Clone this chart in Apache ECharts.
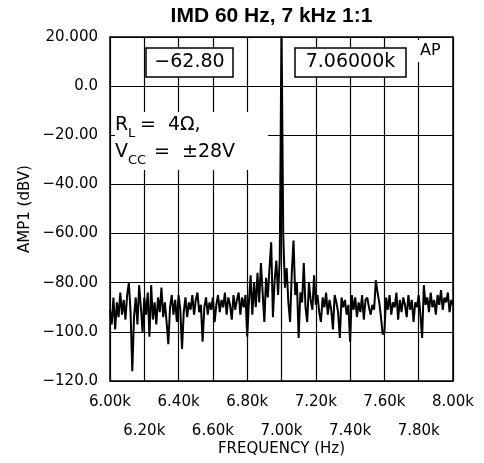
<!DOCTYPE html>
<html>
<head>
<meta charset="utf-8">
<script src="https://cdn.jsdelivr.net/npm/echarts@6/dist/echarts.min.js"></script>
<style>
  html, body { margin: 0; padding: 0; background: #fff; }
  #chart { width: 484px; height: 463px; }
</style>
</head>
<body>
<div id="chart"></div>
<script>
// spectrum, one point every 10 Hz from 6.00k to 8.00k
const freqStart = 6000
const freqStep = 10
const ampValues = [
  -91, -97, -86, -99, -88, -94, -84, -93, -87, -95,
  -85, -80, -92, -116, -94, -86, -97, -81, -90, -100,
  -86, -93, -84, -102, -81, -95, -88, -97, -86, -92,
  -82, -94, -88, -96, -105, -90, -85, -93, -87, -96,
  -85, -91, -107, -92, -86, -94, -88, -91, -85, -93,
  -87, -84, -92, -89, -104, -90, -86, -93, -88, -91,
  -86, -96, -89, -85, -92, -87, -90, -84, -93, -86,
  -89, -95, -85, -91, -87, -84, -93, -86, -90, -85,
  -102, -88, -77, -93, -80, -90, -76, -88, -72, -84,
  -96, -78, -86, -74, -63.5, -94, -79, -71, -85, -70,
  25, -60, -82, -74, -88, -96, -76, -62.8, -85, -80,
  -102.5, -84, -88, -72, -90, -96, -80, -87, -91, -77,
  -89, -85, -92, -96, -86, -90, -84, -93, -87, -91,
  -99, -85, -88, -92, -102.5, -86, -90, -87, -93, -89,
  -104, -85, -91, -86, -94, -88, -92, -85, -95, -87,
  -86, -90, -93, -89, -91, -79, -84, -88, -94, -101,
  -100, -86, -91, -85, -93, -88, -90, -84, -95, -87,
  -92, -86, -89, -94, -85, -91, -87, -96, -88, -90,
  -85, -93, -102.5, -81, -89, -86, -92, -84, -90, -87,
  -93, -85, -89, -83, -91, -86, -88, -84, -92, -87,
  -89
]
const xTickLabels = ['6.00k', '6.20k', '6.40k', '6.60k', '6.80k', '7.00k', '7.20k', '7.40k', '7.60k', '7.80k', '8.00k']
const yTickLabels = ['\u2212120.0', '\u2212100.0', '\u221280.00', '\u221260.00', '\u221240.00', '\u221220.00', '0.0', '20.000']

const points = ampValues.map((v, i) => [freqStart + i * freqStep, v])

const font = 'DejaVu Sans'
const myChart = echarts.init(document.getElementById('chart'))

// labels alternate between two rows: even ticks on the first, odd on the second
function xLabel(row) {
  return function (v) {
    const idx = Math.round((v - 6000) / 200)
    return idx % 2 === row ? xTickLabels[idx] : ''
  }
}

const xBase = {
  type: 'value',
  min: 6000,
  max: 8000,
  interval: 200,
  position: 'bottom',
  axisLine: { show: false },
  axisTick: { show: false }
}

const options = {
  animation: false,
  backgroundColor: '#fff',
  grid: {
    left: 110,
    top: 37,
    right: 31,
    bottom: 82,
    outerBoundsMode: 'none',
    containLabel: false,
    show: true,
    borderColor: '#000',
    borderWidth: 1.5
  },
  xAxis: [
    Object.assign({}, xBase, {
      splitLine: { lineStyle: { color: '#000', width: 1.2 } },
      axisLabel: {
        color: '#000', fontFamily: font, fontSize: 15, margin: 14,
        showMinLabel: true, showMaxLabel: true, hideOverlap: false,
        formatter: xLabel(0)
      }
    }),
    Object.assign({}, xBase, {
      splitLine: { show: false },
      name: 'FREQUENCY (Hz)',
      nameLocation: 'middle',
      nameGap: 61,
      nameMoveOverlap: false,
      nameTextStyle: { color: '#000', fontFamily: font, fontSize: 15 },
      axisLabel: {
        color: '#000', fontFamily: font, fontSize: 15, margin: 43,
        showMinLabel: false, showMaxLabel: false, hideOverlap: false,
        formatter: xLabel(1)
      }
    })
  ],
  yAxis: {
    type: 'value',
    min: -120,
    max: 20,
    interval: 20,
    name: 'AMP1 (dBV)',
    nameLocation: 'middle',
    nameGap: 77,
    nameMoveOverlap: false,
    nameTextStyle: { color: '#000', fontFamily: font, fontSize: 15 },
    axisLine: { show: false },
    axisTick: { show: false },
    splitLine: { lineStyle: { color: '#000', width: 1.2 } },
    axisLabel: {
      color: '#000',
      fontFamily: font,
      fontSize: 15,
      margin: 12,
      formatter: function (v) {
        return yTickLabels[Math.round((v + 120) / 20)]
      }
    }
  },
  graphic: [
    {
      type: 'text', z: 100, x: 271.5, y: 6,
      style: { text: 'IMD 60 Hz, 7 kHz 1:1', fill: '#000', align: 'center', font: 'bold 21px "Liberation Sans", Arial, sans-serif' }
    },
    { type: 'rect', z: 100, shape: { x: 146, y: 48, width: 87, height: 29 }, style: { fill: '#fff', stroke: '#000', lineWidth: 1.5 } },
    { type: 'text', z: 101, x: 189.5, y: 62.5, style: { text: '\u221262.80', fill: '#000', font: '19px "DejaVu Sans"', align: 'center', verticalAlign: 'middle' } },
    { type: 'rect', z: 100, shape: { x: 295, y: 48, width: 111, height: 29 }, style: { fill: '#fff', stroke: '#000', lineWidth: 1.5 } },
    { type: 'text', z: 101, x: 350.5, y: 62.5, style: { text: '7.06000k', fill: '#000', font: '19px "DejaVu Sans"', align: 'center', verticalAlign: 'middle' } },
    { type: 'rect', z: 100, shape: { x: 416, y: 40, width: 34, height: 22 }, style: { fill: '#fff' } },
    { type: 'text', z: 101, x: 420, y: 43, style: { text: 'AP', fill: '#000', font: '16px "DejaVu Sans"' } },
    { type: 'rect', z: 100, shape: { x: 115, y: 112, width: 153, height: 58 }, style: { fill: '#fff' } },
    { type: 'text', z: 101, x: 115, y: 116, style: { text: 'R', fill: '#000', font: '19px "DejaVu Sans"' } },
    { type: 'text', z: 101, x: 128, y: 127, style: { text: 'L', fill: '#000', font: '13px "DejaVu Sans"' } },
    { type: 'text', z: 101, x: 140, y: 116, style: { text: '=  4\u03a9,', fill: '#000', font: '19px "DejaVu Sans"' } },
    { type: 'text', z: 101, x: 115, y: 143, style: { text: 'V', fill: '#000', font: '19px "DejaVu Sans"' } },
    { type: 'text', z: 101, x: 128, y: 154, style: { text: 'CC', fill: '#000', font: '13px "DejaVu Sans"' } },
    { type: 'text', z: 101, x: 154, y: 143, style: { text: '=  \u00b128V', fill: '#000', font: '19px "DejaVu Sans"' } }
  ],
  series: [
    {
      type: 'line',
      xAxisIndex: 0,
      data: points,
      showSymbol: false,
      smooth: false,
      clip: true,
      lineStyle: { color: '#000', width: 2 },
      emphasis: { disabled: true }
    }
  ]
}

myChart.setOption(options)
</script>
</body>
</html>
